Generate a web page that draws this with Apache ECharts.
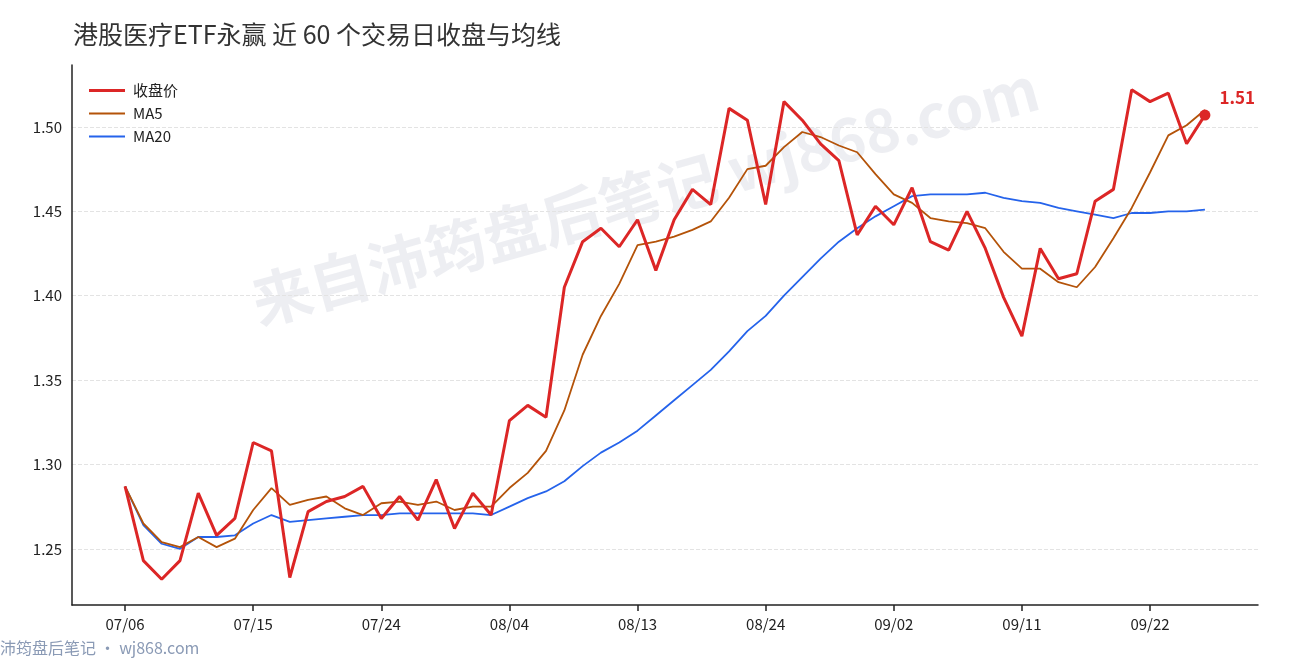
<!DOCTYPE html>
<html><head><meta charset="utf-8">
<script src="https://cdn.jsdelivr.net/npm/echarts@6/dist/echarts.min.js"></script>
<style>html,body{margin:0;padding:0;background:#fff}#c{width:1290px;height:660px}</style>
</head><body><div id="c"></div>
<script>
const dates = ["07/06","07/07","07/08","07/09","07/10","07/13","07/14","07/15","07/16","07/17","07/20","07/21","07/22","07/23","07/24","07/27","07/28","07/29","07/30","07/31","08/03","08/04","08/05","08/06","08/07","08/10","08/11","08/12","08/13","08/14","08/17","08/18","08/19","08/20","08/21","08/24","08/25","08/26","08/27","08/28","08/31","09/01","09/02","09/03","09/04","09/07","09/08","09/09","09/10","09/11","09/14","09/15","09/16","09/17","09/18","09/21","09/22","09/23","09/24","09/25"];
const close = [1.287,1.243,1.232,1.243,1.283,1.258,1.268,1.313,1.308,1.233,1.272,1.278,1.281,1.287,1.268,1.281,1.267,1.291,1.262,1.283,1.270,1.326,1.335,1.328,1.405,1.432,1.440,1.429,1.445,1.415,1.445,1.463,1.454,1.511,1.504,1.454,1.515,1.504,1.490,1.480,1.436,1.453,1.442,1.464,1.432,1.427,1.450,1.428,1.399,1.376,1.428,1.410,1.413,1.456,1.463,1.522,1.515,1.520,1.490,1.507];
const ma5 = [1.287,1.265,1.254,1.251,1.257,1.251,1.256,1.273,1.286,1.276,1.279,1.281,1.274,1.270,1.277,1.278,1.276,1.278,1.273,1.275,1.275,1.286,1.295,1.308,1.332,1.365,1.388,1.407,1.430,1.432,1.435,1.439,1.444,1.458,1.475,1.477,1.488,1.497,1.494,1.489,1.485,1.472,1.460,1.455,1.446,1.444,1.443,1.440,1.426,1.416,1.416,1.408,1.405,1.417,1.434,1.452,1.473,1.495,1.501,1.510];
const ma20 = [1.287,1.264,1.253,1.250,1.257,1.257,1.258,1.265,1.270,1.266,1.267,1.268,1.269,1.270,1.270,1.271,1.271,1.271,1.271,1.271,1.270,1.275,1.280,1.284,1.290,1.299,1.307,1.313,1.320,1.329,1.338,1.347,1.356,1.367,1.379,1.388,1.400,1.411,1.422,1.432,1.440,1.447,1.453,1.459,1.460,1.460,1.460,1.461,1.458,1.456,1.455,1.452,1.450,1.448,1.446,1.449,1.449,1.450,1.450,1.451];
const xTicks = [0,7,14,21,28,35,42,49,56];
const yTicks = [1.25,1.30,1.35,1.40,1.45,1.50];
const pts = a => a.map((v,i)=>[i,v]);
const chart = echarts.init(document.getElementById('c'));
const font = '"Noto Sans CJK SC","Noto Sans",sans-serif';
chart.setOption({
  animation:false,
  textStyle:{fontFamily:font},
  title:{text:'港股医疗ETF永赢 近 60 个交易日收盘与均线',left:68,top:17,textStyle:{fontSize:25,fontWeight:'normal',color:'#333',fontFamily:font}},
  graphic:[
    {type:'text',position:[645,195],rotation:0.27,style:{text:'来自沛筠盘后笔记 wj868.com',fill:'rgba(140,150,175,0.16)',font:'bold 60px '+font,textAlign:'center',textVerticalAlign:'middle'},z:-1,silent:true},
    {type:'text',left:0,bottom:4,style:{text:'沛筠盘后笔记 · wj868.com',fill:'#8a9ab5',font:'16px '+font}}
  ],
  legend:{left:84,top:78,orient:'vertical',itemGap:8,itemWidth:36,itemHeight:10,textStyle:{fontSize:15,color:'#222',padding:[0,0,0,3]},
    data:[{name:'收盘价',icon:'path://M0,3.5L36,3.5L36,6.5L0,6.5Z'},{name:'MA5',icon:'path://M0,4L36,4L36,6L0,6Z'},{name:'MA20',icon:'path://M0,4L36,4L36,6L0,6Z'}]},
  grid:{left:72,right:32,top:65,bottom:55},
  xAxis:{type:'value',min:-2.9,max:61.9,
    axisLine:{onZero:false,lineStyle:{color:'#222',width:1.5}},
    axisTick:{customValues:xTicks,length:6,lineStyle:{color:'#222',width:1.5}},
    axisLabel:{customValues:xTicks,formatter:v=>dates[v],fontSize:15,color:'#222',margin:12},
    splitLine:{show:false}},
  yAxis:{type:'value',min:1.2167,max:1.5367,
    axisLine:{show:true,onZero:false,lineStyle:{color:'#222',width:1.5}},
    axisTick:{show:false,customValues:yTicks},
    axisLabel:{customValues:yTicks,formatter:v=>v.toFixed(2),fontSize:15,color:'#222',margin:10},
    splitLine:{show:true,lineStyle:{color:'#e3e3e3',type:'dashed'}}},
  series:[
    {name:'收盘价',type:'line',data:pts(close),symbol:'none',lineStyle:{color:'#dc2626',width:3},itemStyle:{color:'#dc2626'},z:4,
      markPoint:{symbol:'circle',symbolSize:11,itemStyle:{color:'#dc2626'},
        data:[{coord:[59,close[59]],label:{show:true,formatter:close[59].toFixed(2),position:'right',offset:[4,-18],color:'#dc2626',fontWeight:'bold',fontSize:17}}]}},
    {name:'MA5',type:'line',data:pts(ma5),symbol:'none',lineStyle:{color:'#b45309',width:1.8},itemStyle:{color:'#b45309'},z:3},
    {name:'MA20',type:'line',data:pts(ma20),symbol:'none',lineStyle:{color:'#2563eb',width:1.8},itemStyle:{color:'#2563eb'},z:2}
  ]
});
</script></body></html>
